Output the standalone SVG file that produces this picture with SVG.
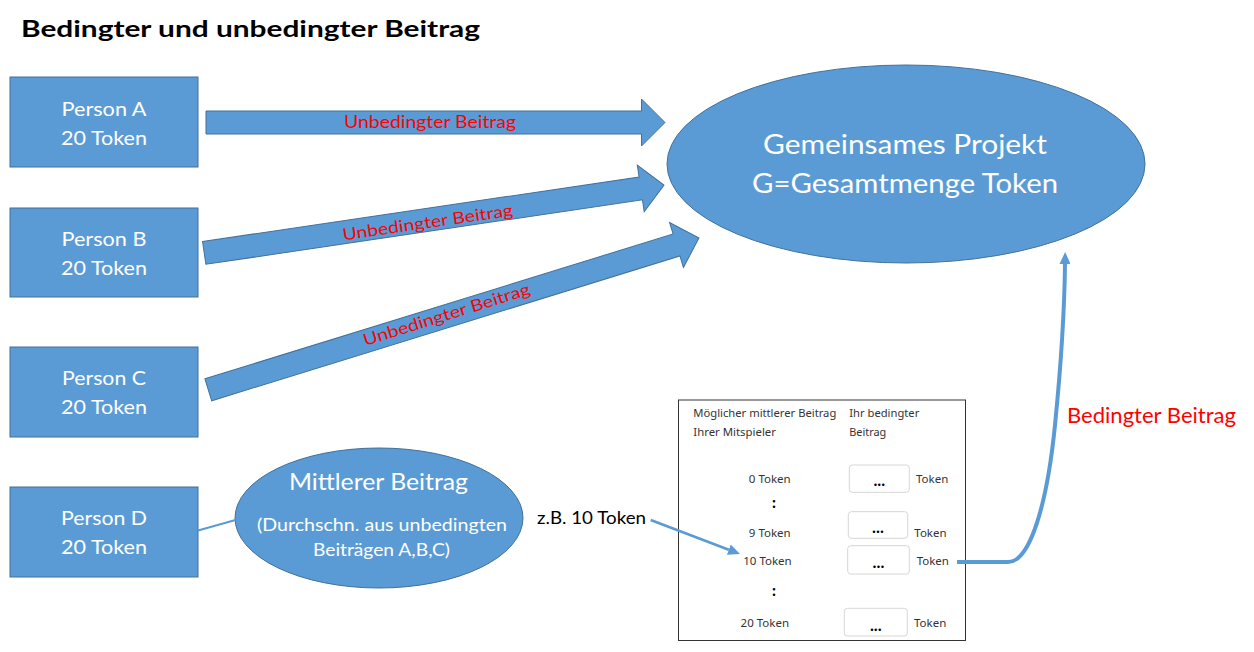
<svg xmlns="http://www.w3.org/2000/svg" width="1254" height="652" viewBox="0 0 1254 652">
<style>
.bg{fill:#ffffff}
.node{fill:#5B9BD5;stroke:#41719C;stroke-width:1}
.bigarrow{fill:#5B9BD5;stroke:#41719C;stroke-width:1}
.wt{font-family:Lato,"Liberation Sans",sans-serif;fill:#ffffff;text-anchor:middle}
.red{font-family:Lato,"Liberation Sans",sans-serif;fill:#FF0000}
.blk{font-family:Lato,"Liberation Sans",sans-serif;fill:#000000}
.tt{font-family:"Noto Sans","Open Sans",sans-serif;font-size:11.5px;fill:#333333}
.dots{font-family:"Noto Sans","Open Sans",sans-serif;font-size:14px;font-weight:bold;fill:#000000;text-anchor:middle}
.inbox{fill:#ffffff;stroke:#d6d6d6;stroke-width:1}
.conn{fill:none;stroke:#5B9BD5}
</style>
<defs>
<marker id="ah" markerUnits="userSpaceOnUse" markerWidth="13" markerHeight="11" refX="0" refY="5.5" orient="auto">
<path d="M0,0 L12,5.5 L0,11 Z" fill="#5B9BD5"/>
</marker>
</defs>
<rect class="bg" x="0" y="0" width="1254" height="652"/>

<text id="title" class="blk" x="21" y="37" font-size="23.5" font-weight="bold" textLength="459" lengthAdjust="spacingAndGlyphs">Bedingter und unbedingter Beitrag</text>

<g id="personA">
<rect class="node" x="10" y="77" width="188" height="90"/>
<text class="wt" x="104" y="115.5" font-size="19.5" textLength="85" lengthAdjust="spacingAndGlyphs">Person A</text>
<text class="wt" x="104" y="144.5" font-size="19.5" textLength="86" lengthAdjust="spacingAndGlyphs">20 Token</text>
</g>
<g id="personB">
<rect class="node" x="10" y="208" width="188" height="89"/>
<text class="wt" x="104" y="246" font-size="19.5" textLength="85" lengthAdjust="spacingAndGlyphs">Person B</text>
<text class="wt" x="104" y="274.5" font-size="19.5" textLength="86" lengthAdjust="spacingAndGlyphs">20 Token</text>
</g>
<g id="personC">
<rect class="node" x="10" y="347" width="188" height="90"/>
<text class="wt" x="104" y="385" font-size="19.5" textLength="84" lengthAdjust="spacingAndGlyphs">Person C</text>
<text class="wt" x="104" y="413.5" font-size="19.5" textLength="86" lengthAdjust="spacingAndGlyphs">20 Token</text>
</g>
<g id="personD">
<rect class="node" x="10" y="487" width="188" height="90"/>
<text class="wt" x="104" y="525" font-size="19.5" textLength="86" lengthAdjust="spacingAndGlyphs">Person D</text>
<text class="wt" x="104" y="553.5" font-size="19.5" textLength="86" lengthAdjust="spacingAndGlyphs">20 Token</text>
</g>

<g id="projekt">
<ellipse class="node" cx="906" cy="164" rx="239" ry="99"/>
<text class="wt" x="905" y="154.3" font-size="27" textLength="284" lengthAdjust="spacingAndGlyphs">Gemeinsames Projekt</text>
<text class="wt" x="905" y="192.7" font-size="27" textLength="306" lengthAdjust="spacingAndGlyphs">G=Gesamtmenge Token</text>
</g>

<g id="mittlerer">
<ellipse class="node" cx="379" cy="518" rx="144" ry="70"/>
<text class="wt" x="378.5" y="490" font-size="23" textLength="179" lengthAdjust="spacingAndGlyphs">Mittlerer Beitrag</text>
<text class="wt" x="382" y="530.7" font-size="17.3" textLength="250" lengthAdjust="spacingAndGlyphs">(Durchschn. aus unbedingten</text>
<text class="wt" x="381.5" y="556" font-size="17.3" textLength="137" lengthAdjust="spacingAndGlyphs">Beiträgen A,B,C)</text>
</g>

<g id="tabelle">
<rect x="678.5" y="400" width="287" height="240.5" fill="#ffffff" stroke="#333333" stroke-width="1"/>
<text class="tt" x="693.3" y="416.7" textLength="143" lengthAdjust="spacingAndGlyphs">Möglicher mittlerer Beitrag</text>
<text class="tt" x="693.3" y="435.7" textLength="82.7" lengthAdjust="spacingAndGlyphs">Ihrer Mitspieler</text>
<text class="tt" x="849.3" y="416.7" textLength="70" lengthAdjust="spacingAndGlyphs">Ihr bedingter</text>
<text class="tt" x="849.3" y="435.7" textLength="37" lengthAdjust="spacingAndGlyphs">Beitrag</text>

<text class="tt" x="790.7" y="483.3" text-anchor="end">0 Token</text>
<text class="dots" x="774" y="508">:</text>
<text class="tt" x="790.7" y="536.7" text-anchor="end">9 Token</text>
<text class="tt" x="791.7" y="565" text-anchor="end">10 Token</text>
<text class="dots" x="774" y="596">:</text>
<text class="tt" x="789" y="627.3" text-anchor="end">20 Token</text>

<rect class="inbox" x="849.3" y="465" width="60" height="27.3" rx="3"/>
<rect class="inbox" x="848.3" y="511.7" width="59.4" height="26.6" rx="3"/>
<rect class="inbox" x="847.7" y="545.7" width="61.6" height="28.3" rx="3"/>
<rect class="inbox" x="844.3" y="608.3" width="63" height="27.7" rx="3"/>
<text class="dots" x="879.3" y="486">...</text>
<text class="dots" x="878" y="532.5">...</text>
<text class="dots" x="878.5" y="567.5">...</text>
<text class="dots" x="875.8" y="631">...</text>

<text class="tt" x="916" y="483.3">Token</text>
<text class="tt" x="914.3" y="536.7">Token</text>
<text class="tt" x="916.7" y="565">Token</text>
<text class="tt" x="914" y="627.3">Token</text>
</g>

<g id="connectors">
<path class="bigarrow" transform="translate(206,122.5)" d="M0,-11.5 H435.5 V-23.5 L459,0 L435.5,23.5 V11.5 H0 Z"/>
<path class="bigarrow" transform="translate(204.2,252.9) rotate(-8.4)" d="M0,-11.5 H441.3 V-23.5 L464.8,0 L441.3,23.5 V11.5 H0 Z"/>
<path class="bigarrow" transform="translate(208.3,389.8) rotate(-17.19)" d="M0,-11.5 H490.1 V-23.5 L513.6,0 L490.1,23.5 V11.5 H0 Z"/>
<text class="red" x="430" y="128" font-size="16.5" text-anchor="middle" textLength="172" lengthAdjust="spacingAndGlyphs">Unbedingter Beitrag</text>
<text class="red" x="428.5" y="228" font-size="16.5" text-anchor="middle" textLength="172" lengthAdjust="spacingAndGlyphs" transform="rotate(-8.3 428.5 228)">Unbedingter Beitrag</text>
<text class="red" x="448.3" y="320" font-size="16.5" text-anchor="middle" textLength="174" lengthAdjust="spacingAndGlyphs" transform="rotate(-17.4 448.3 320)">Unbedingter Beitrag</text>
<line class="conn" x1="198" y1="530.5" x2="235.5" y2="520" stroke-width="2"/>
<line class="conn" x1="650.7" y1="520" x2="728.8" y2="549.7" stroke-width="2.7" marker-end="url(#ah)"/>
<path class="conn" d="M957,562 L1008,562 C1030,562 1047,505 1055,425 C1061,365 1064.5,305 1065,264" stroke-width="4" marker-end="url(#ah)"/>
<text class="blk" x="537" y="524" font-size="17" textLength="109" lengthAdjust="spacingAndGlyphs">z.B. 10 Token</text>
<text class="red" x="1067" y="423" font-size="20.5" textLength="169" lengthAdjust="spacingAndGlyphs">Bedingter Beitrag</text>
</g>
</svg>
